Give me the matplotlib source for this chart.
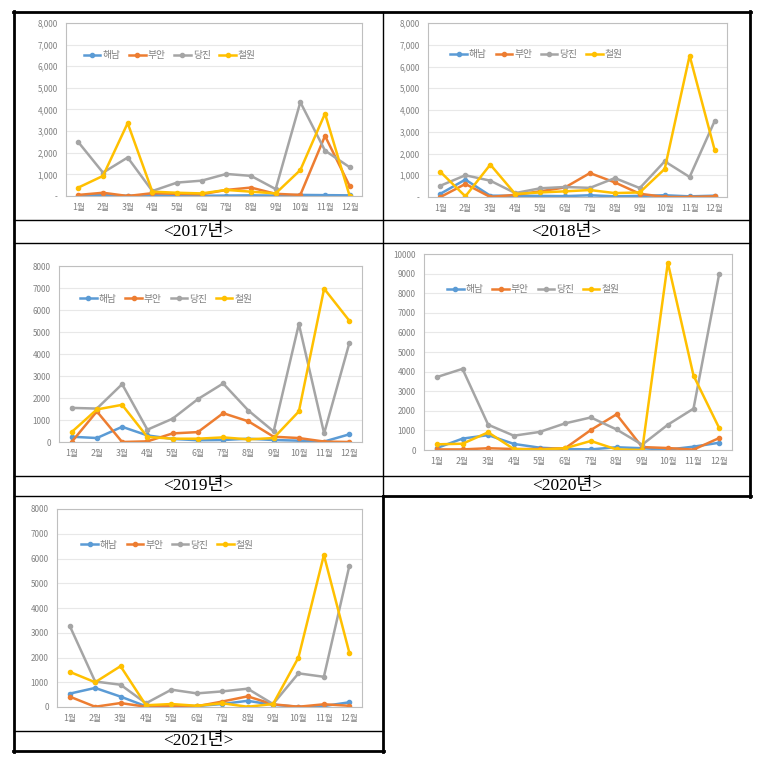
import numpy as np
import matplotlib
matplotlib.use("Agg")
from matplotlib import pyplot as plt
from matplotlib.lines import Line2D
from matplotlib.ticker import FuncFormatter

plt.rcParams['font.family'] = ['Noto Sans CJK KR', 'DejaVu Sans']

months = [f"{m}월" for m in range(1, 13)]
regions = ["해남", "부안", "당진", "철원"]
colors = ["#5B9BD5", "#ED7D31", "#A5A5A5", "#FFC000"]

# 2017
haenam_2017 = [20, 60, 10, 40, 10, 10, 20, 30, 20, 50, 40, 30]
buan_2017 = [50, 150, 0, 130, 100, 80, 280, 390, 100, 50, 2780, 460]
dangjin_2017 = [2490, 1080, 1780, 230, 620, 710, 1020, 930, 320, 4340, 2100, 1330]
cheorwon_2017 = [390, 930, 3370, 200, 150, 120, 280, 200, 120, 1200, 3810, 0]

# 2018
haenam_2018 = [150, 800, 60, 60, 50, 40, 80, 30, 50, 80, 30, 60]
buan_2018 = [0, 600, 0, 100, 260, 440, 1100, 670, 150, 0, 0, 30]
dangjin_2018 = [520, 1000, 750, 180, 400, 460, 420, 870, 410, 1640, 920, 3480]
cheorwon_2018 = [1150, 30, 1490, 140, 210, 260, 320, 180, 210, 1290, 6500, 2180]

# 2019
haenam_2019 = [240, 180, 690, 300, 140, 80, 90, 150, 90, 60, 20, 350]
buan_2019 = [0, 1390, 0, 30, 390, 450, 1310, 940, 240, 180, 20, 0]
dangjin_2019 = [1550, 1520, 2630, 560, 1060, 1950, 2660, 1430, 480, 5360, 390, 4500]
cheorwon_2019 = [450, 1480, 1690, 230, 150, 150, 210, 120, 180, 1390, 6970, 5510]

# 2020
haenam_2020 = [100, 580, 760, 310, 120, 50, 30, 140, 90, 20, 170, 370]
buan_2020 = [30, 30, 90, 50, 50, 90, 1020, 1820, 150, 100, 20, 610]
dangjin_2020 = [3720, 4140, 1290, 730, 920, 1360, 1660, 1050, 270, 1290, 2110, 8980]
cheorwon_2020 = [290, 320, 900, 50, 20, 90, 460, 30, 0, 9560, 3800, 1120]

# 2021
haenam_2021 = [540, 770, 420, 30, 40, 40, 120, 250, 90, 10, 40, 190]
buan_2021 = [420, 10, 160, 10, 40, 30, 220, 430, 110, 10, 110, 50]
dangjin_2021 = [3280, 1030, 900, 150, 700, 550, 630, 740, 120, 1360, 1220, 5690]
cheorwon_2021 = [1420, 1000, 1650, 70, 120, 50, 150, 10, 120, 2000, 6140, 2200]

W, H = 764, 757
fig = plt.figure(figsize=(W / 100, H / 100), dpi=100)


def box(l, r, t, b):
    return [l / W, 1 - b / H, (r - l) / W, (b - t) / H]


def comma_fmt(v, pos):
    if v == 0:
        return "-"
    return f"{int(v):,}"


def plain_fmt(v, pos):
    return f"{int(v)}"


def panel(rect, series, ymax, fmt, leg_xy):
    ax = fig.add_axes(box(*rect))
    x = np.arange(1, 13)
    for vals, c, name in zip(series, colors, regions):
        ax.plot(x, vals, color=c, lw=1.8, marker="o", ms=3, label=name)
    ax.set_xlim(0.5, 12.5)
    ax.set_ylim(0, ymax)
    ax.set_yticks(np.arange(0, ymax + 1, 1000))
    ax.yaxis.set_major_formatter(FuncFormatter(fmt))
    ax.set_xticks(x)
    ax.set_xticklabels(months)
    ax.tick_params(axis="y", length=0, labelsize=5.8, colors="#808080", pad=6)
    ax.tick_params(axis="x", length=0, labelsize=6.3, colors="#808080", pad=5)
    ax.grid(axis="y", color="#E8E8E8", lw=0.8)
    ax.set_axisbelow(True)
    for s in ax.spines.values():
        s.set_color("#BFBFBF")
        s.set_linewidth(0.8)
    ax.legend(loc="center left", bbox_to_anchor=leg_xy, ncol=4, frameon=False,
              fontsize=7, labelcolor="#808080", handlelength=1.7,
              handletextpad=0.2, columnspacing=0.9, borderaxespad=0,
              borderpad=0)
    return ax


panel((66, 362, 23, 196),
      [haenam_2017, buan_2017, dangjin_2017, cheorwon_2017], 8000, comma_fmt,
      (0.06, 0.815))
panel((428, 727, 23, 197),
      [haenam_2018, buan_2018, dangjin_2018, cheorwon_2018], 8000, comma_fmt,
      (0.075, 0.82))
panel((59, 362, 266, 442),
      [haenam_2019, buan_2019, dangjin_2019, cheorwon_2019], 8000, plain_fmt,
      (0.07, 0.815))
panel((424, 732, 254, 450),
      [haenam_2020, buan_2020, dangjin_2020, cheorwon_2020], 10000, plain_fmt,
      (0.075, 0.82))
panel((57, 362, 509, 707),
      [haenam_2021, buan_2021, dangjin_2021, cheorwon_2021], 8000, plain_fmt,
      (0.08, 0.82))

# table frame
def hline(y, x0, x1, lw):
    fig.add_artist(Line2D([x0 / W, x1 / W], [1 - y / H, 1 - y / H],
                          color="black", lw=lw))


def vline(x, y0, y1, lw):
    fig.add_artist(Line2D([x / W, x / W], [1 - y0 / H, 1 - y1 / H],
                          color="black", lw=lw))


hline(12, 13, 751, 2)
hline(220, 14, 750, 1)
hline(243, 14, 750, 1)
hline(476, 14, 750, 1)
hline(496, 14, 383, 1)
hline(496, 383, 751, 2)
hline(731, 14, 383, 1)
hline(751, 13, 384, 2)
vline(14, 11, 752, 2)
vline(750, 11, 497, 2)
vline(383, 12, 496, 1)
vline(383, 496, 752, 2)

cap_font = ['Liberation Serif', 'Noto Sans CJK KR']
for txt, cx, cy in [("<2017년>", 198, 232), ("<2018년>", 566, 232),
                    ("<2019년>", 198, 486), ("<2020년>", 567, 486),
                    ("<2021년>", 198, 741)]:
    fig.text(cx / W, 1 - cy / H, txt, ha="center", va="center",
             fontsize=12.5, family=cap_font)

fig.savefig("out.png", dpi=100, facecolor="white")
